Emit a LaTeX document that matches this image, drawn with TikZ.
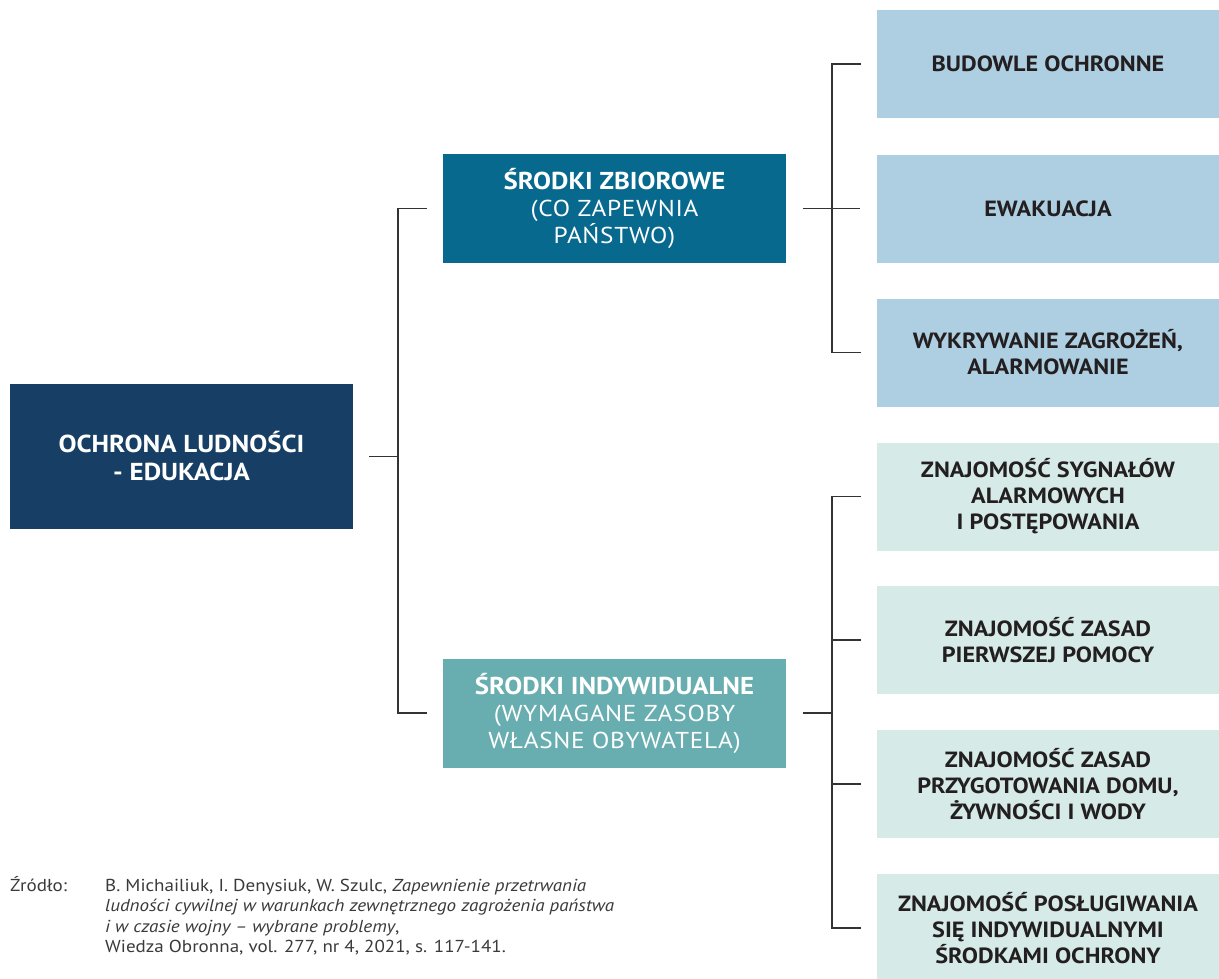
\documentclass[tikz,border=0pt]{standalone}
\usepackage{fontspec}
\setmainfont{PT Sans}[FakeStretch=1.1]
\usetikzlibrary{calc}
\definecolor{cRoot}{HTML}{173F65}
\definecolor{cZb}{HTML}{08698F}
\definecolor{cInd}{HTML}{68AEB0}
\definecolor{cTop}{HTML}{AECFE2}
\definecolor{cBot}{HTML}{D6EBE8}
\definecolor{cLine}{HTML}{333333}
\definecolor{cTxt}{HTML}{231F20}
\definecolor{cSrc}{HTML}{3A3A3A}
\newcommand{\spaced}[1]{{\addfontfeatures{LetterSpace=3}#1}}
\newcommand{\midhead}[1]{{\bfseries\fontsize{24.4}{27}\selectfont #1}}
\tikzset{
  box/.style={rectangle, inner sep=0pt, align=center, minimum width=343pt},
  rootbox/.style={box, fill=cRoot, text=white, minimum height=145pt, font=\bfseries\fontsize{24.5}{28}\selectfont},
  midbox/.style={box, text=white, minimum height=109pt, font=\fontsize{23}{27}\selectfont},
  rbox/.style={box, minimum width=342pt, minimum height=108pt, text=cTxt, font=\bfseries\fontsize{22}{26}\selectfont},
  conn/.style={draw=cLine, line width=1.3pt},
  src/.style={inner sep=0pt, text=cSrc, font=\fontsize{17.3}{20.5}\selectfont},
}
\begin{document}
\begin{tikzpicture}[x=1pt,y=-1pt]
\useasboundingbox (0,0) rectangle (1219,978);
\clip (0,0) rectangle (1219,978);
% root
\node[rootbox] (root) at (181.5,456.5) {OCHRONA LUDNOŚCI\\- EDUKACJA};
% middle
\node[midbox, fill=cZb] (zb) at (614.5,208.5) {\midhead{ŚRODKI ZBIOROWE}\\\spaced{(CO ZAPEWNIA}\\\spaced{PAŃSTWO)}};
\node[midbox, fill=cInd] (ind) at (614.5,713) {\midhead{ŚRODKI INDYWIDUALNE}\\\spaced{(WYMAGANE ZASOBY}\\\spaced{WŁASNE OBYWATELA)}};
% right top
\node[rbox, fill=cTop] (t1) at (1048,64) {BUDOWLE OCHRONNE};
\node[rbox, fill=cTop] (t2) at (1048,208.5) {EWAKUACJA};
\node[rbox, fill=cTop] (t3) at (1048,352.5) {WYKRYWANIE ZAGROŻEŃ,\\ALARMOWANIE};
% right bottom
\node[rbox, fill=cBot] (b1) at (1048,496.5) {ZNAJOMOŚĆ SYGNAŁÓW\\ALARMOWYCH\\I POSTĘPOWANIA};
\node[rbox, fill=cBot] (b2) at (1048,640) {ZNAJOMOŚĆ ZASAD\\PIERWSZEJ POMOCY};
\node[rbox, fill=cBot] (b3) at (1048,784) {ZNAJOMOŚĆ ZASAD\\PRZYGOTOWANIA DOMU,\\ŻYWNOŚCI I WODY};
\node[rbox, fill=cBot] (b4) at (1048,928) {ZNAJOMOŚĆ POSŁUGIWANIA\\SIĘ INDYWIDUALNYMI\\ŚRODKAMI OCHRONY};
% bus coordinates
\coordinate (busL) at (398,0);
\coordinate (busR) at (832,0);
% left connectors
\draw[conn] ([xshift=16pt]root.east) -- (busL |- root.east);
\draw[conn] ([xshift=-16pt]zb.west) -| (busL |- ind.west) -- ([xshift=-16pt]ind.west);
% top right connectors
\draw[conn] ([xshift=17pt]zb.east) -- ([xshift=-17pt]t2.west |- zb.east);
\draw[conn] ([xshift=-16pt]t1.west) -| (busR |- t3.west) -- ([xshift=-16pt]t3.west);
% bottom right connectors
\draw[conn] ([xshift=17pt]ind.east) -- (busR |- ind.east);
\draw[conn] ([xshift=-16pt]b1.west) -| (busR |- b4.west) -- ([xshift=-16pt]b4.west);
\draw[conn] ([xshift=-16pt]b2.west) -- (busR |- b2.west);
\draw[conn] ([xshift=-16pt]b3.west) -- (busR |- b3.west);
% source
\node[src, anchor=base west] (srclab) at (10,891) {Źródło:};
\node[src, anchor=base west, align=left] (srctxt) at (105,952.5)
  {B. Michailiuk, I. Denysiuk, W. Szulc, \textit{Zapewnienie przetrwania}\\
   \textit{ludności cywilnej w warunkach zewnętrznego zagrożenia państwa}\\
   \textit{i w czasie wojny – wybrane problemy},\\
   Wiedza Obronna, vol. 277, nr 4, 2021, s. 117-141.};
\end{tikzpicture}
\end{document}
